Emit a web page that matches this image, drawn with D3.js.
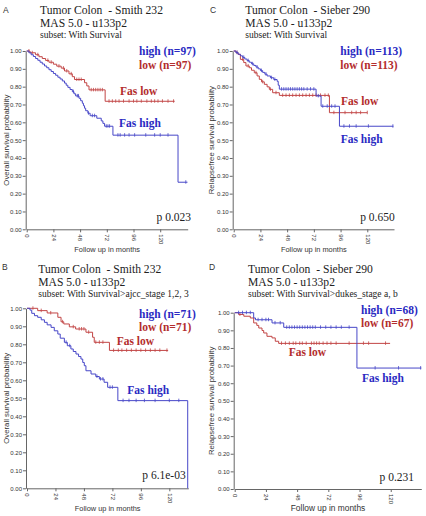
<!DOCTYPE html>
<html>
<head>
	<meta charset="utf-8">
	<title>Fas survival - colon</title>
	<script src="https://cdn.jsdelivr.net/npm/d3@7"></script>
	<style>
		body { margin: 0; background: #fff; }
		svg text { white-space: pre; }
	</style>
</head>
<body>
<div id="chart"></div>
<script>

	// data

	const monthTicks = [0, 24, 48, 72, 96, 120];
	const survTicks = [0, 0.1, 0.2, 0.3, 0.4, 0.5, 0.6, 0.7, 0.8, 0.9, 1.0];

	// A: Smith 232, with survival
	const smithHigh = [[0,1],[2,0.99],[4,0.979],[6,0.969],[8,0.958],[10,0.948],[12,0.937],[14,0.927],[16,0.916],[18,0.906],[20,0.895],[22,0.885],[24,0.874],[26,0.864],[28,0.853],[30,0.843],[32,0.832],[34,0.82],[35.5,0.808],[37,0.796],[39,0.784],[41,0.772],[42.5,0.76],[44,0.748],[47,0.735],[48.5,0.721],[50,0.707],[51,0.693],[52,0.679],[53,0.665],[55,0.651],[57,0.637],[63,0.623],[67,0.608],[68.5,0.594],[70,0.578],[77.5,0.528],[136,0.264]];
	const smithHighEnd = 144.5;
	const smithHighCens = [42,45.5,46.5,55.5,59,61,71.5,73,74.5,82,84,88,92,97,107,115,120,127,143];
	const smithLow = [[0,1],[3,0.99],[8,0.979],[11,0.968],[14,0.958],[17,0.947],[20,0.937],[24,0.926],[27,0.915],[31,0.904],[34,0.888],[38,0.872],[41,0.856],[43,0.84],[52,0.822],[54,0.804],[56,0.782],[70.5,0.718]];
	const smithLowEnd = 133;
	const smithLowCens = [2,5,10,19,22,29,33,36,40,45,47,49,58,60,62,64,66,68,74,77,80,83,87,92,96,99,103,108,112,115,118,122,127,132];

	// C: Sieber 290, with survival
	const sieberHigh = [[0,1],[2,0.991],[4,0.982],[6,0.973],[8,0.964],[10,0.955],[12,0.946],[14,0.937],[16,0.928],[18,0.919],[20,0.91],[22,0.9],[24,0.89],[26,0.88],[28,0.87],[30,0.86],[33,0.85],[36,0.84],[39,0.83],[40,0.808],[41,0.786],[74,0.748],[78.5,0.69],[95,0.578]];
	const sieberHighEnd = 143.5;
	const sieberHighCens = [3,9,13,17,21,25,29,34,37,43,45,47,49,51,53,55,57,59,61,63,66,69,72,76,80,84,88,91,99,104,110,121,143];
	const sieberLow = [[0,1],[2,0.991],[4,0.981],[6,0.953],[9,0.935],[11,0.916],[14,0.906],[16,0.892],[18.5,0.878],[21,0.86],[23,0.841],[25,0.827],[27.5,0.813],[30,0.799],[32,0.785],[35,0.766],[41,0.751],[86,0.654]];
	const sieberLowEnd = 120;
	const sieberLowCens = [3,8,13,20,26,33,38,44,47,50,53,56,59,62,65,68,71,74,78,82,85,90,95,100,106,110,114,120];

	// B: Smith 232, ajcc stage 1,2,3
	const smithStHigh = [[0,1],[2.5,0.99],[4,0.972],[6.3,0.959],[9,0.95],[12,0.936],[14.7,0.922],[17,0.908],[20.3,0.894],[23,0.875],[26,0.857],[28,0.834],[31.5,0.811],[34,0.792],[37,0.774],[39,0.76],[41.3,0.746],[43.5,0.732],[45.5,0.718],[47,0.699],[48.3,0.681],[49.7,0.653],[54,0.635],[58,0.621],[61,0.607],[65,0.589],[68,0.561],[76.6,0.487],[135.5,0]];
	const smithStHighEnd = 135.5;
	const smithStHighCens = [33,36,59,62,64,70,72,81,86,92,99,108,120,128];
	const smithStLow = [[0,1],[9,0.987],[17,0.974],[26,0.95],[28.7,0.925],[31,0.913],[35.7,0.897],[41,0.885],[49.7,0.867],[55.3,0.839],[56.7,0.811],[69.5,0.766]];
	const smithStLowEnd = 119;
	const smithStLowCens = [5,12,20,30,39,44,46,48,52,58,61,64,73,77,80,84,88,92,96,100,104,108,112,118];

	// D: Sieber 290, dukes stage a, b
	const sieberStHigh = [[0,1],[14.6,0.97],[16,0.96],[28.7,0.942],[37.7,0.917],[94,0.686]];
	const sieberStHighEnd = 143.5;
	const sieberStHighCens = [3,6,9,12,18,21,24,26,31,35,40,42,44,46,48,50,52,54,56,58,60,62,66,70,74,78,82,88,108,126,143];
	const sieberStLow = [[0,1],[3,0.99],[7,0.98],[12,0.97],[14.6,0.942],[17,0.928],[18.5,0.913],[21,0.899],[22.3,0.885],[24.8,0.866],[28.7,0.857],[31.2,0.838],[33.8,0.826]];
	const sieberStLowEnd = 119.5;
	const sieberStLowCens = [4,36,39,42,45,47,50,52,55,59,61,63,65,68,71,74,78,88,99,103,116];

	const letters = ["A", "C", "B", "D"];
	const titles = ["Tumor Colon  - Smith 232", "Tumor Colon  - Sieber 290", "Tumor Colon  - Smith 232", "Tumor Colon  - Sieber 290"];
	const subtitles = ["MAS 5.0 - u133p2", "MAS 5.0 - u133p2", "MAS 5.0 - u133p2", "MAS 5.0 - u133p2"];
	const subsets = ["subset: With Survival", "subset: With Survival", "subset: With Survival>ajcc_stage 1,2, 3", "subset: With Survival>dukes_stage a, b"];
	const highLabels = ["high (n=97)", "high (n=113)", "high (n=71)", "high (n=68)"];
	const lowLabels = ["low (n=97)", "low (n=113)", "low (n=71)", "low (n=67)"];
	const pValues = ["p 0.023", "p 0.650", "p 6.1e-03", "p 0.231"];
	const yTitles = ["Overall survival probability", "Relapsefree survival probability", "Overall survival probability", "Relapsefree survival probability"];
	const xMax = [144.7, 144, 136, 143.5];

	const curves = [
		{ high: [smithHigh, smithHighEnd, smithHighCens], low: [smithLow, smithLowEnd, smithLowCens] },
		{ high: [sieberHigh, sieberHighEnd, sieberHighCens], low: [sieberLow, sieberLowEnd, sieberLowCens] },
		{ high: [smithStHigh, smithStHighEnd, smithStHighCens], low: [smithStLow, smithStLowEnd, smithStLowCens] },
		{ high: [sieberStHigh, sieberStHighEnd, sieberStHighCens], low: [sieberStLow, sieberStLowEnd, sieberStLowCens] },
	];

	// layout (pixels)

	const width = 426;
	const height = 516;
	const layout = [
		{ letter: [3, 13], title: [40, 14], plot: [26.7, 187.7, 51, 229.3], yTitleX: 6, xTitleY: 252, legend: [139, 55], fasLow: [120, 94.5], fasHigh: [119, 126.5], p: [191, 221], xTitleSize: 7.4 },
		{ letter: [210, 13], title: [245.3, 14], plot: [233.7, 394, 51, 229.3], yTitleX: 211, xTitleY: 252, legend: [340.3, 55], fasLow: [341, 104.5], fasHigh: [340.7, 142.5], p: [394.7, 221], xTitleSize: 7.4 },
		{ letter: [2, 270], title: [38.3, 273], plot: [27, 188.3, 308.3, 488.3], yTitleX: 6, xTitleY: 511, legend: [139, 317.5], fasLow: [116.7, 345], fasHigh: [127.3, 394], p: [185.7, 479], xTitleSize: 7.4 },
		{ letter: [209, 270], title: [248, 273], plot: [234.7, 421.3, 312.7, 489], yTitleX: 211, xTitleY: 511, legend: [361, 313.5], fasLow: [288.7, 355.5], fasHigh: [362, 381.5], p: [414, 481], xTitleSize: 8.4 },
	];

	const blueLine = "#4747c8";
	const redLine = "#c24545";
	const blueText = "#2a2ac2";
	const redText = "#b32d2d";
	const serif = "'Liberation Serif', 'Times New Roman', serif";
	const sans = "'Liberation Sans', Arial, sans-serif";

	const svg = d3.select("#chart")
		.append("svg")
		.attr("width", width)
		.attr("height", height)
		.attr("viewBox", [0, 0, width, height]);

	function survAt(steps, t) {
		let s = 1;
		for (const [ti, si] of steps) if (ti <= t) s = si;
		return s;
	}

	layout.forEach((L, i) => {
		const [l, r, t, b] = L.plot;
		const x = d3.scaleLinear().domain([0, xMax[i]]).range([l, r]);
		const y = d3.scaleLinear().domain([0, 1]).range([b, t]);
		const g = svg.append("g");

		// panel letter
		g.append("text")
			.attr("x", L.letter[0]).attr("y", L.letter[1])
			.attr("font-family", sans).attr("font-size", 8.5).attr("fill", "#333")
			.text(letters[i]);

		// titles
		g.append("text")
			.attr("x", L.title[0]).attr("y", L.title[1])
			.attr("font-family", serif).attr("font-size", 11.6).attr("fill", "#222")
			.text(titles[i]);
		g.append("text")
			.attr("x", L.title[0]).attr("y", L.title[1] + 13)
			.attr("font-family", serif).attr("font-size", 11.6).attr("fill", "#222")
			.text(subtitles[i]);
		g.append("text")
			.attr("x", L.title[0]).attr("y", L.title[1] + 24)
			.attr("font-family", serif).attr("font-size", 9.5).attr("fill", "#222")
			.text(subsets[i]);

		// axes
		const yAxis = g.append("g")
			.attr("transform", `translate(${l - 1},0)`)
			.call(d3.axisLeft(y).tickValues(survTicks).tickFormat(d3.format(".2f")).tickSize(3).tickSizeOuter(0));
		const xAxis = g.append("g")
			.attr("transform", `translate(0,${b})`)
			.call(d3.axisBottom(x).tickValues(monthTicks).tickSize(3).tickSizeOuter(0));
		[yAxis, xAxis].forEach(a => {
			a.select(".domain").attr("stroke", "#666");
			a.selectAll(".tick line").attr("stroke", "#666");
			a.selectAll("text").attr("font-family", sans).attr("font-size", 6).attr("fill", "#333");
		});
		yAxis.selectAll("text").attr("x", -4);
		xAxis.selectAll("text")
			.attr("transform", "rotate(90)")
			.attr("text-anchor", "start")
			.attr("x", 5).attr("y", 0).attr("dy", "0.35em");

		g.append("text")
			.attr("transform", `translate(${L.yTitleX},${(t + b) / 2}) rotate(-90)`)
			.attr("text-anchor", "middle").attr("dy", "0.35em")
			.attr("font-family", sans).attr("font-size", 7.8).attr("fill", "#333")
			.text(yTitles[i]);
		g.append("text")
			.attr("x", (l + r) / 2).attr("y", L.xTitleY)
			.attr("text-anchor", "middle")
			.attr("font-family", sans).attr("font-size", L.xTitleSize).attr("fill", "#333")
			.text("Follow up in months");

		// curves
		const line = d3.line().x(d => x(d[0])).y(d => y(d[1])).curve(d3.curveStepAfter);
		[["low", redLine], ["high", blueLine]].forEach(([key, color]) => {
			const [steps, end, cens] = curves[i][key];
			const pts = steps.concat([[end, steps[steps.length - 1][1]]]);
			g.append("path")
				.attr("d", line(pts))
				.attr("fill", "none").attr("stroke", color).attr("stroke-width", 1);
			g.append("g").selectAll("line")
				.data(cens)
				.join("line")
				.attr("x1", d => x(d)).attr("x2", d => x(d))
				.attr("y1", d => y(survAt(steps, d)) - 2)
				.attr("y2", d => y(survAt(steps, d)) + 1.5)
				.attr("stroke", color).attr("stroke-width", 0.8);
		});

		// legend and labels
		const bold = (txt, xy, color) => g.append("text")
			.attr("x", xy[0]).attr("y", xy[1])
			.attr("font-family", serif).attr("font-weight", "bold").attr("font-size", 11.5)
			.attr("fill", color).text(txt);
		bold(highLabels[i], L.legend, blueText);
		bold(lowLabels[i], [L.legend[0], L.legend[1] + 13.5], redText);
		bold("Fas low", L.fasLow, redText);
		bold("Fas high", L.fasHigh, blueText);

		g.append("text")
			.attr("x", L.p[0]).attr("y", L.p[1])
			.attr("text-anchor", "end")
			.attr("font-family", serif).attr("font-size", 11.5).attr("fill", "#222")
			.text(pValues[i]);
	});

</script>
</body>
</html>
